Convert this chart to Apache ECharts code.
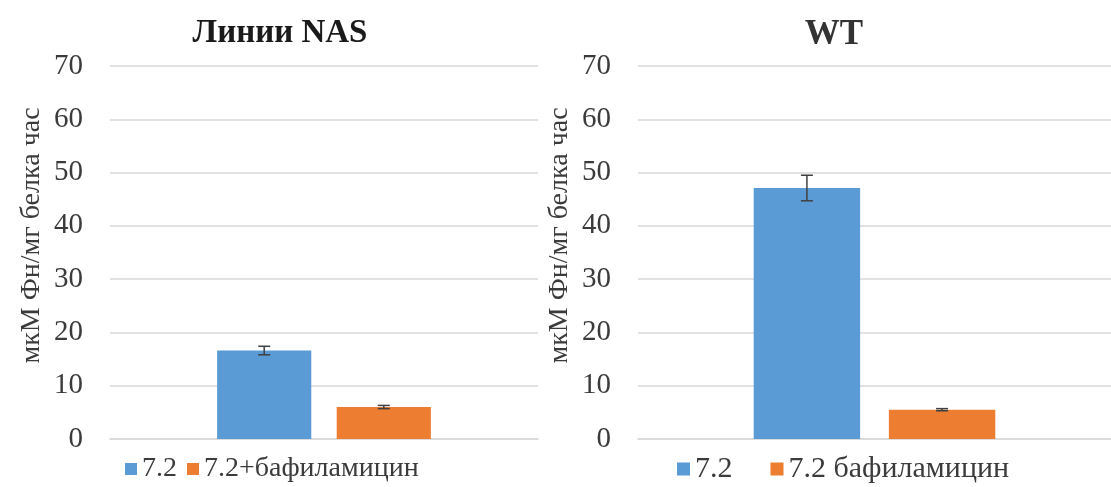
<!DOCTYPE html>
<html>
<head>
<meta charset="utf-8">
<script src="https://cdn.jsdelivr.net/npm/echarts@6/dist/echarts.min.js"></script>
<style>
  html, body { margin: 0; padding: 0; background: #fff; }
  #chart { width: 1111px; height: 487px; }
</style>
</head>
<body>
<div id="chart"></div>
<script>
// data
const categories = ['7.2'];
const yTicks = { min: 0, max: 70, interval: 10 };
const nasTitle = 'Линии NAS';
const wtTitle = 'WT';
const yName = 'мкМ Фн/мг белка час';

const nasNames = ['7.2', '7.2+бафиламицин'];
const nasControl = [16.6];
const nasControlErr = [0.8];
const nasBaf = [6.0];
const nasBafErr = [0.3];

const wtNames = ['7.2', '7.2 бафиламицин'];
const wtControl = [47.1];
const wtControlErr = [2.4];
const wtBaf = [5.5];
const wtBafErr = [0.2];

const BLUE = '#5b9bd5';
const ORANGE = '#ed7d31';
const FONT = '"Liberation Serif", "DejaVu Serif", serif';
const TXT = '#3b3b3b';

// bar width (share of category band) per panel, barGap shared
const GAP = 0.27;
const BW = [0.22, 0.225];

function errData(vals, errs) {
    return vals.map((v, i) => [i, v - errs[i], v + errs[i]]);
}

// side: -1 left bar, +1 right bar
function errorBar(gridIdx, side, vals, errs) {
    return {
        type: 'custom',
        xAxisIndex: gridIdx,
        yAxisIndex: gridIdx,
        z: 10,
        silent: true,
        data: errData(vals, errs),
        renderItem: function (params, api) {
            const band = api.size([1, 0])[0];
            const bw = band * BW[gridIdx];
            const off = side * (bw + bw * GAP) / 2;
            const lo = api.coord([api.value(0), api.value(1)]);
            const hi = api.coord([api.value(0), api.value(2)]);
            const x = lo[0] + off;
            const cap = 6;
            const st = { stroke: '#404040', lineWidth: 1.5 };
            return {
                type: 'group',
                children: [
                    { type: 'line', shape: { x1: x, y1: lo[1], x2: x, y2: hi[1] }, style: st },
                    { type: 'line', shape: { x1: x - cap, y1: lo[1], x2: x + cap, y2: lo[1] }, style: st },
                    { type: 'line', shape: { x1: x - cap, y1: hi[1], x2: x + cap, y2: hi[1] }, style: st }
                ]
            };
        }
    };
}

function xAxis(gridIdx) {
    return {
        type: 'category',
        gridIndex: gridIdx,
        data: categories,
        axisLine: { show: true, lineStyle: { color: '#d9d9d9', width: 1.5 } },
        axisTick: { show: false },
        axisLabel: { show: false }
    };
}

function yAxis(gridIdx) {
    return {
        type: 'value',
        gridIndex: gridIdx,
        min: yTicks.min,
        max: yTicks.max,
        interval: yTicks.interval,
        name: yName,
        nameLocation: 'middle',
        nameGap: 64,
        nameRotate: 90,
        // left padding nudges the rotated title upward like in the source
        nameTextStyle: { fontFamily: FONT, fontSize: 28, color: TXT, padding: [0, 0, 0, 34] },
        axisLine: { show: false },
        axisTick: { show: false },
        axisLabel: { fontFamily: FONT, fontSize: 29, color: TXT, margin: 27 },
        splitLine: { lineStyle: { color: '#d9d9d9', width: 1.5 } }
    };
}

function bar(gridIdx, name, vals, color) {
    return {
        type: 'bar',
        name: name,
        xAxisIndex: gridIdx,
        yAxisIndex: gridIdx,
        data: vals,
        barWidth: (BW[gridIdx] * 100) + '%',
        barGap: (GAP * 100) + '%',
        itemStyle: { color: color }
    };
}

const option = {
    animation: false,
    backgroundColor: '#fff',
    title: [
        {
            text: nasTitle, left: 275, top: 12, textAlign: 'center',
            textStyle: { fontFamily: FONT, fontSize: 33, fontWeight: 'bold', color: '#1a1a1a' }
        },
        {
            text: wtTitle, left: 829, top: 12, textAlign: 'center',
            textStyle: { fontFamily: FONT, fontSize: 35, fontWeight: 'bold', color: '#333' }
        }
    ],
    legend: [
        {
            data: nasNames, left: 120, top: 450, icon: 'rect',
            itemWidth: 12, itemHeight: 12, itemGap: 10,
            textStyle: { fontFamily: FONT, fontSize: 28, color: TXT }
        },
        {
            data: wtNames, left: 672, top: 449, icon: 'rect',
            itemWidth: 13, itemHeight: 13, itemGap: 38,
            textStyle: { fontFamily: FONT, fontSize: 30, color: TXT }
        }
    ],
    grid: [
        { left: 110, right: 573, top: 66, bottom: 48 },
        { left: 638, right: -10, top: 66, bottom: 48 }
    ],
    xAxis: [xAxis(0), xAxis(1)],
    yAxis: [yAxis(0), yAxis(1)],
    series: [
        bar(0, nasNames[0], nasControl, BLUE),
        bar(0, nasNames[1], nasBaf, ORANGE),
        bar(1, wtNames[0], wtControl, BLUE),
        bar(1, wtNames[1], wtBaf, ORANGE),
        errorBar(0, -1, nasControl, nasControlErr),
        errorBar(0, 1, nasBaf, nasBafErr),
        errorBar(1, -1, wtControl, wtControlErr),
        errorBar(1, 1, wtBaf, wtBafErr)
    ]
};

const myChart = echarts.init(document.getElementById('chart'));
myChart.setOption(option);
</script>
</body>
</html>
